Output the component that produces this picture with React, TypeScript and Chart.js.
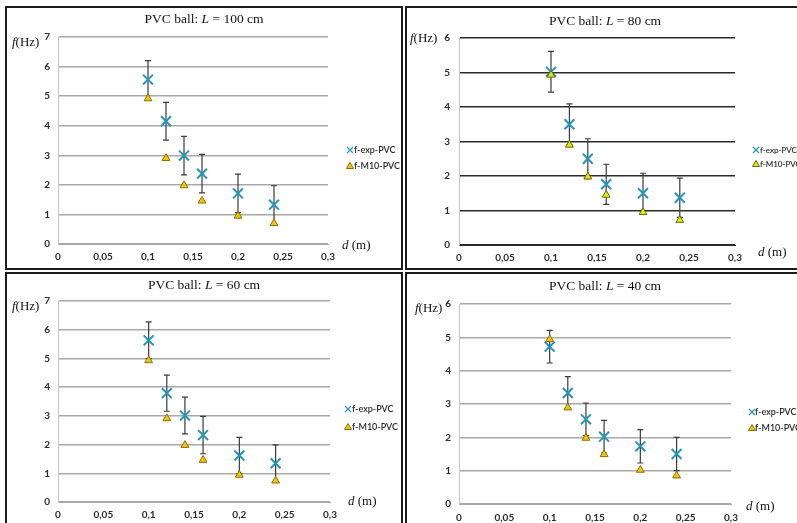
import React, { useEffect, useRef } from "react";
import { Chart, registerables } from "chart.js";
Chart.register(...registerables);

// ---------- data ----------
const dValues = [0.1, 0.12, 0.14, 0.16, 0.2, 0.24];
const xTickLabels = ["0", "0,05", "0,1", "0,15", "0,2", "0,25", "0,3"];
const seriesNames = ["f-exp-PVC", "f-M10-PVC"];
const lengthsCm = [100, 80, 60, 40];
const yMaxes = [7, 6, 7, 6];

const exp100 = [5.56, 4.15, 2.99, 2.38, 1.71, 1.33];
const err100 = [0.64, 0.64, 0.65, 0.65, 0.65, 0.64];
const m10_100 = [4.92, 2.9, 1.98, 1.46, 0.95, 0.7];

const exp80 = [5.02, 3.5, 2.5, 1.76, 1.5, 1.37];
const err80 = [0.59, 0.59, 0.58, 0.58, 0.58, 0.57];
const m10_80 = [4.93, 2.9, 1.98, 1.45, 0.95, 0.72];

const exp60 = [5.63, 3.79, 3.01, 2.33, 1.62, 1.35];
const err60 = [0.64, 0.63, 0.64, 0.65, 0.63, 0.64];
const m10_60 = [4.93, 2.91, 1.98, 1.46, 0.94, 0.74];

const exp40 = [4.72, 3.33, 2.54, 2.02, 1.73, 1.5];
const err40 = [0.49, 0.49, 0.49, 0.49, 0.5, 0.5];
const m10_40 = [4.94, 2.89, 1.98, 1.49, 1.02, 0.85];

const expSeries = [exp100, exp80, exp60, exp40];
const errSeries = [err100, err80, err60, err40];
const m10Series = [m10_100, m10_80, m10_60, m10_40];

// ---------- layout / style ----------
const CW = 394;
const CH = 260;
const SERIF = "'Liberation Serif', 'Times New Roman', serif";
const SANS = "Lato, 'Open Sans', 'Liberation Sans', sans-serif";
const TEAL = "#2694b6";

type PanelLayout = {
  left: number; top: number;
  area: { l: number; r: number; t: number; b: number };
  title: [number, number];
  fhz: [number, number];
  dm: [number, number];
  legend: { mx: number; tx: number; y1: number; y2: number; size: number };
  grid: string; gridWidth: number;
  triFill: string; triBorder: string;
  yPad: number; xPad: number;
};

const layouts: PanelLayout[] = [
  {
    left: 5, top: 6,
    area: { l: 51, r: 321, t: 29, b: 236 },
    title: [197, 11], fhz: [5, 35], dm: [335, 238],
    legend: { mx: 343, tx: 347, y1: 142, y2: 158, size: 9 },
    grid: "#a8a8a8", gridWidth: 1.5, triFill: "#f2c80f", triBorder: "#8a6d00",
    yPad: 8, xPad: 7,
  },
  {
    left: 405, top: 6,
    area: { l: 52, r: 328, t: 30, b: 237 },
    title: [198, 13], fhz: [3, 31], dm: [351, 245],
    legend: { mx: 349, tx: 353, y1: 142, y2: 156, size: 8 },
    grid: "#2a2a2a", gridWidth: 1.5, triFill: "#e6e61a", triBorder: "#6b6b00",
    yPad: 9, xPad: 7,
  },
  {
    left: 5, top: 272,
    area: { l: 51, r: 323, t: 27, b: 228 },
    title: [197, 11], fhz: [5, 33], dm: [341, 228],
    legend: { mx: 341, tx: 345, y1: 135, y2: 153, size: 9 },
    grid: "#a8a8a8", gridWidth: 1.5, triFill: "#f2c80f", triBorder: "#8a6d00",
    yPad: 8, xPad: 7,
  },
  {
    left: 405, top: 272,
    area: { l: 52, r: 324, t: 30, b: 230 },
    title: [198, 12], fhz: [8, 35], dm: [339, 233],
    legend: { mx: 345, tx: 348, y1: 138, y2: 154, size: 9 },
    grid: "#a8a8a8", gridWidth: 1.5, triFill: "#f2c80f", triBorder: "#8a6d00",
    yPad: 8, xPad: 8,
  },
];

type Run = { text: string; italic?: boolean };

function drawRuns(ctx: CanvasRenderingContext2D, runs: Run[], x: number, y: number, size: number, align: "left" | "center") {
  const fontFor = (r: Run) => `${r.italic ? "italic " : ""}${size}px ${SERIF}`;
  let total = 0;
  for (const r of runs) {
    ctx.font = fontFor(r);
    total += ctx.measureText(r.text).width;
  }
  let cx = align === "center" ? x - total / 2 : x;
  ctx.textBaseline = "middle";
  ctx.textAlign = "left";
  for (const r of runs) {
    ctx.font = fontFor(r);
    ctx.fillText(r.text, cx, y);
    cx += ctx.measureText(r.text).width;
  }
}

const annotPlugin = {
  id: "annot",
  beforeDatasetsDraw(chart: any, _args: any, opts: any) {
    const ctx: CanvasRenderingContext2D = chart.ctx;
    const xs = chart.scales.x;
    const ys = chart.scales.y;
    const vals: number[] = opts.values;
    const errs: number[] = opts.errors;
    ctx.save();
    ctx.strokeStyle = "#3a3a3a";
    ctx.lineWidth = 1.2;
    for (let i = 0; i < vals.length; i++) {
      const x = xs.getPixelForValue(dValues[i]);
      const yt = ys.getPixelForValue(vals[i] + errs[i]);
      const yb = ys.getPixelForValue(vals[i] - errs[i]);
      ctx.beginPath();
      ctx.moveTo(x, yt);
      ctx.lineTo(x, yb);
      ctx.moveTo(x - 3, yt);
      ctx.lineTo(x + 3, yt);
      ctx.moveTo(x - 3, yb);
      ctx.lineTo(x + 3, yb);
      ctx.stroke();
    }
    ctx.restore();
  },
  afterDraw(chart: any, _args: any, opts: any) {
    const ctx: CanvasRenderingContext2D = chart.ctx;
    const L: PanelLayout = opts.layout;
    ctx.save();
    ctx.fillStyle = "#111";
    drawRuns(ctx, [{ text: "PVC ball: " }, { text: "L", italic: true }, { text: ` = ${opts.length} cm` }], L.title[0], L.title[1], 13.5, "center");
    drawRuns(ctx, [{ text: "f", italic: true }, { text: "(Hz)" }], L.fhz[0], L.fhz[1], 13, "left");
    drawRuns(ctx, [{ text: "d", italic: true }, { text: " (m)" }], L.dm[0], L.dm[1], 13, "left");

    // legend
    const lg = L.legend;
    ctx.strokeStyle = TEAL;
    ctx.lineWidth = 1.2;
    ctx.beginPath();
    ctx.moveTo(lg.mx - 3, lg.y1 - 3);
    ctx.lineTo(lg.mx + 3, lg.y1 + 3);
    ctx.moveTo(lg.mx + 3, lg.y1 - 3);
    ctx.lineTo(lg.mx - 3, lg.y1 + 3);
    ctx.stroke();
    ctx.fillStyle = L.triFill;
    ctx.strokeStyle = L.triBorder;
    ctx.lineWidth = 1;
    ctx.beginPath();
    ctx.moveTo(lg.mx, lg.y2 - 3.5);
    ctx.lineTo(lg.mx + 3.5, lg.y2 + 2.5);
    ctx.lineTo(lg.mx - 3.5, lg.y2 + 2.5);
    ctx.closePath();
    ctx.fill();
    ctx.stroke();

    ctx.fillStyle = "#2a2a2a";
    ctx.font = `600 ${lg.size}px ${SANS}`;
    ctx.textAlign = "left";
    ctx.textBaseline = "middle";
    ctx.fillText(seriesNames[0], lg.tx, lg.y1);
    ctx.fillText(seriesNames[1], lg.tx, lg.y2);
    ctx.restore();
  },
};

function Panel({ idx }: { idx: number }) {
  const ref = useRef<HTMLCanvasElement>(null);
  const L = layouts[idx];
  useEffect(() => {
    const canvas = ref.current;
    if (!canvas) return;
    const yW = 20;
    const xH = 20;
    const chart = new Chart(canvas, {
      type: "scatter",
      data: {
        datasets: [
          {
            label: seriesNames[0],
            data: dValues.map((d, i) => ({ x: d, y: expSeries[idx][i] })),
            pointStyle: "crossRot",
            pointRadius: 7,
            pointBorderWidth: 2,
            borderColor: TEAL,
            backgroundColor: TEAL,
            order: 2,
          },
          {
            label: seriesNames[1],
            data: dValues.map((d, i) => ({ x: d, y: m10Series[idx][i] })),
            pointStyle: "triangle",
            pointRadius: 4.5,
            pointBorderWidth: 1,
            borderColor: L.triBorder,
            backgroundColor: L.triFill,
            order: 1,
          },
        ],
      },
      options: {
        responsive: false,
        animation: false,
        devicePixelRatio: 1,
        events: [],
        layout: {
          padding: {
            left: L.area.l - yW,
            right: CW - L.area.r,
            top: L.area.t,
            bottom: CH - L.area.b - xH,
          },
        },
        plugins: {
          legend: { display: false },
          tooltip: { enabled: false },
          title: { display: false },
          annot: {
            layout: L,
            length: lengthsCm[idx],
            values: expSeries[idx],
            errors: errSeries[idx],
          },
        } as any,
        scales: {
          x: {
            type: "linear",
            min: 0,
            max: 0.3,
            afterFit: (s: any) => { s.height = xH; },
            ticks: {
              stepSize: 0.05,
              autoSkip: false,
              maxRotation: 0,
              padding: L.xPad,
              color: "#2a2a2a",
              font: { family: SANS, size: 10, weight: "bold" },
              callback: (_v: any, i: number) => xTickLabels[i],
            },
            grid: { display: false, drawTicks: false },
            border: { display: true, color: L.grid, width: 1 },
          },
          y: {
            type: "linear",
            min: 0,
            max: yMaxes[idx],
            afterFit: (s: any) => { s.width = yW; },
            ticks: {
              stepSize: 1,
              padding: L.yPad,
              color: "#2a2a2a",
              font: { family: SANS, size: 10, weight: "bold" },
            },
            grid: { color: L.grid, lineWidth: L.gridWidth, drawTicks: false },
            border: { display: true, color: "#c4c4c4", width: 1 },
          },
        },
      },
      plugins: [annotPlugin as any],
    });
    return () => chart.destroy();
  }, [idx]);
  return (
    <div
      style={{
        position: "absolute",
        left: L.left,
        top: L.top,
        width: CW,
        height: CH,
        border: "2px solid #1c1c1c",
        background: "#fff",
      }}
    >
      <canvas ref={ref} width={CW} height={CH} style={{ display: "block", width: CW, height: CH }} />
    </div>
  );
}

export default function App() {
  return (
    <div
      style={{
        position: "absolute",
        left: 0,
        top: 0,
        width: 797,
        height: 523,
        overflow: "hidden",
        background: "#fff",
      }}
    >
      {[0, 1, 2, 3].map((i) => (
        <Panel key={i} idx={i} />
      ))}
    </div>
  );
}
